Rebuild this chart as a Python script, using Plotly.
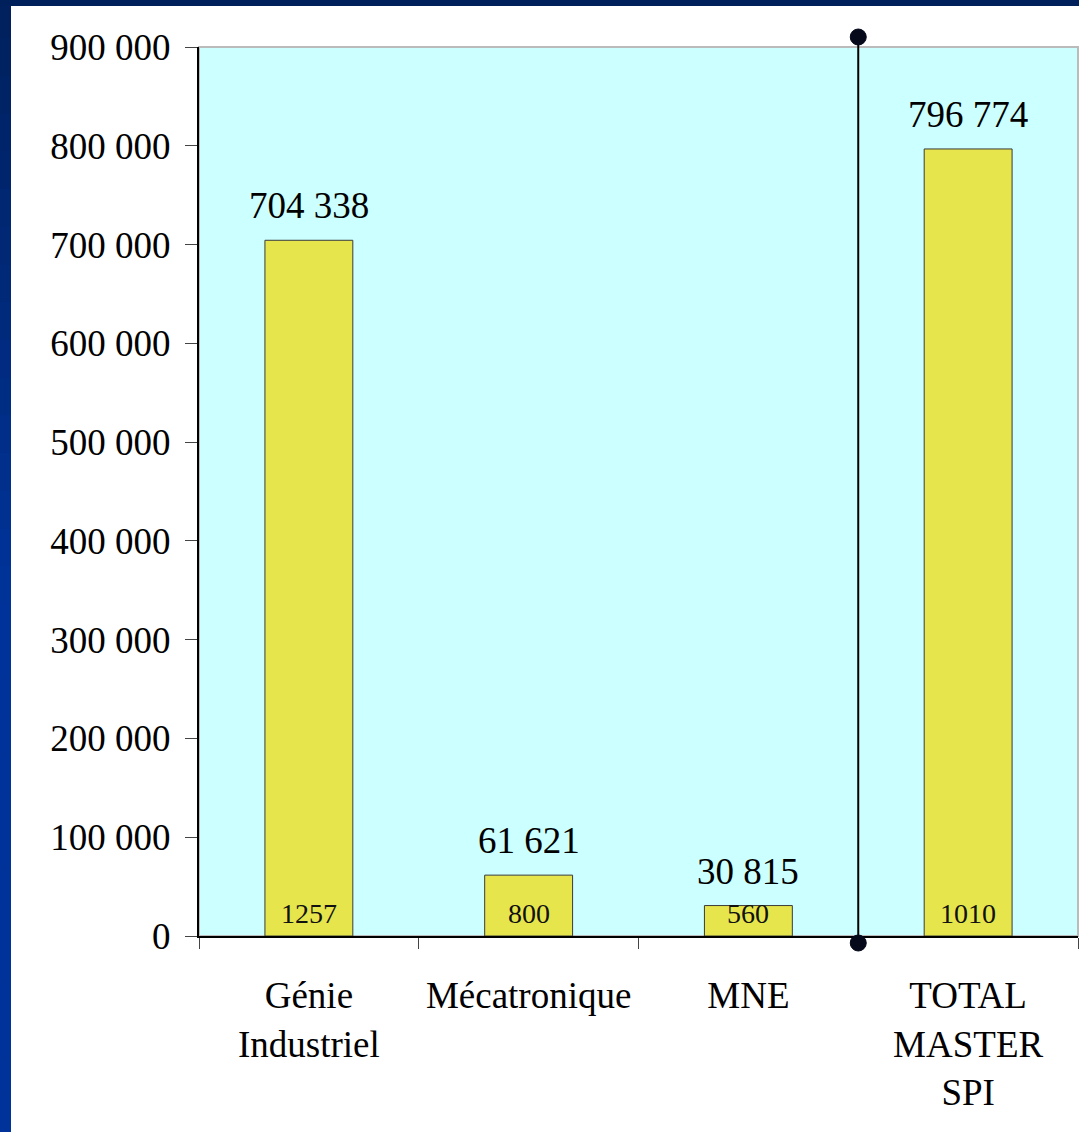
import plotly.graph_objects as go

categories = ["Génie<br>Industriel", "Mécatronique", "MNE", "TOTAL<br>MASTER<br>SPI"]
values = [704338, 61621, 30815, 796774]
counts = [1257, 800, 560, 1010]
y_ticks = [0, 100000, 200000, 300000, 400000, 500000, 600000, 700000, 800000, 900000]


def fmt(v):
    return f"{v:,}".replace(",", " ")


W, H = 1079, 1132
L, R, T, B = 199, 1, 47, 196
FONT = "Liberation Serif, Times New Roman, serif"

fig = go.Figure()
fig.add_trace(go.Bar(
    x=categories, y=values, width=0.4,
    marker=dict(color="#E6E64C", line=dict(color="#3a3a3a", width=1)),
    hoverinfo="skip",
))

annotations = []
for c, v, n in zip(categories, values, counts):
    annotations.append(dict(x=c, y=v, text=fmt(v), showarrow=False, yanchor="bottom",
                            yshift=12, font=dict(family=FONT, size=37, color="black")))
    annotations.append(dict(x=c, y=0, text=str(n), showarrow=False, yanchor="bottom",
                            yshift=5, font=dict(family=FONT, size=28, color="#111")))

pw = W - L - R
ph = H - T - B


def px_x(p):
    return (p - L) / pw


def px_y(p):
    return (H - B - p) / ph


shapes = []
# plot area frame (grey top/right)
shapes.append(dict(type="rect", xref="paper", yref="paper", x0=0, x1=1, y0=0, y1=1,
                   line=dict(color="#BBBBBB", width=2), layer="below"))
# divider line with dots
shapes.append(dict(type="line", xref="x", yref="paper", x0=2.5, x1=2.5,
                   y0=px_y(943), y1=px_y(37), line=dict(color="black", width=2)))
for yy in (943, 37):
    shapes.append(dict(type="circle", xref="x", yref="paper", xsizemode="pixel", ysizemode="pixel",
                       xanchor=2.5, yanchor=px_y(yy), x0=-8, x1=8, y0=-8, y1=8,
                       fillcolor="#05091a", line=dict(color="#05091a", width=1)))
# blue frame: left bar with gradient, then top bar
nseg = 30
c0 = (0, 32, 91)
c1 = (0, 51, 153)
for i in range(nseg):
    ya = i * H / nseg
    yb = (i + 1) * H / nseg + 2
    t = min(1.0, (ya + yb) / 2 / 600)
    col = tuple(int(round(c0[k] + (c1[k] - c0[k]) * t)) for k in range(3))
    shapes.append(dict(type="rect", xref="paper", yref="paper", x0=px_x(-2), x1=px_x(11),
                       y0=px_y(yb), y1=px_y(ya), fillcolor="rgb(%d,%d,%d)" % col,
                       line=dict(width=0), layer="above"))
shapes.append(dict(type="rect", xref="paper", yref="paper", x0=px_x(-2), x1=px_x(W + 2),
                   y0=px_y(6), y1=px_y(-2), fillcolor="#00205B", line=dict(width=0), layer="above"))

fig.update_layout(
    width=W, height=H,
    margin=dict(l=L, r=R, t=T, b=B, pad=0),
    paper_bgcolor="white", plot_bgcolor="#CCFFFF",
    showlegend=False, bargap=0.6,
    font=dict(family=FONT, size=37, color="black"),
    annotations=annotations, shapes=shapes,
    xaxis=dict(type="category", tickson="boundaries", ticks="outside", ticklen=11,
               tickcolor="#444", showline=True, linecolor="black", linewidth=2,
               showgrid=False, tickfont=dict(family=FONT, size=37, color="black"),
               ticklabelstandoff=26),
    yaxis=dict(range=[0, 900000], tickvals=y_ticks, ticktext=[fmt(v) for v in y_ticks],
               ticks="outside", ticklen=12, tickcolor="#444", showline=True,
               linecolor="black", linewidth=2, showgrid=False, zeroline=False,
               tickfont=dict(family=FONT, size=37, color="black"), ticklabelstandoff=7),
)

fig.write_html("out.html", config={"displayModeBar": False},
               post_script="document.body.style.margin='0';document.body.style.overflow='hidden';")
